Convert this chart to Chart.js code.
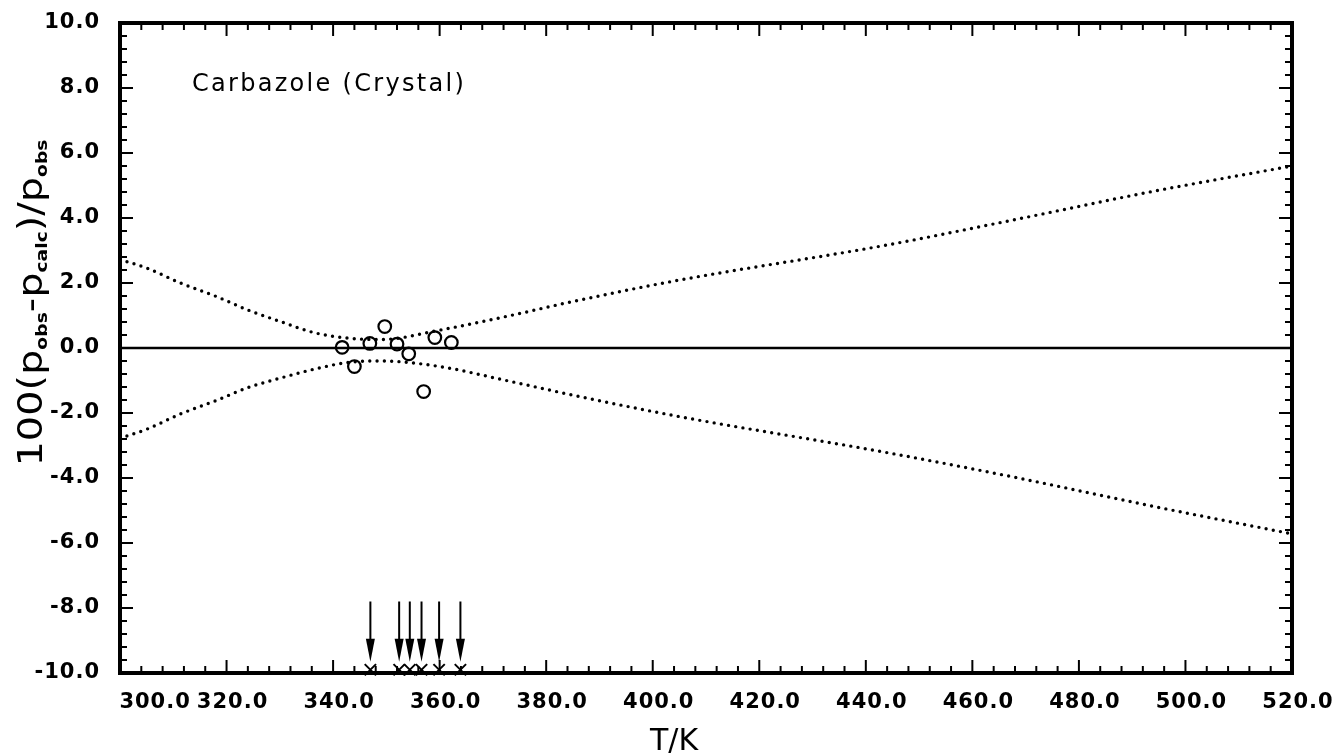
<!DOCTYPE html>
<html>
<head>
<meta charset="utf-8">
<script src="https://cdn.jsdelivr.net/npm/chart.js@4.4.1/dist/chart.umd.min.js"></script>
<style>
  html, body { margin: 0; padding: 0; background: #fff; }
  #contenedor { width: 1335px; height: 755px; }
</style>
</head>
<body>
<div id="contenedor"><canvas id="grafico" width="1335" height="755"></canvas></div>
<script>
// --- DATOS ---
// puntos medidos (T/K, desviación %)
const medidosT = [341.7, 344.0, 346.9, 349.7, 352.0, 354.2, 357.0, 359.1, 362.2];
const medidosDev = [0.02, -0.57, 0.14, 0.66, 0.12, -0.18, -1.34, 0.32, 0.17];

// banda de incertidumbre (curvas punteadas)
const bandaT = [300, 305, 311.5, 318, 324, 330, 336.5, 343, 349, 360, 372.5, 385, 404, 444, 468, 493, 520];
const bandaSup = [2.72, 2.46, 1.99, 1.59, 1.17, 0.82, 0.47, 0.30, 0.26, 0.55, 0.97, 1.43, 2.06, 3.17, 3.95, 4.79, 5.60];
const bandaInf = [-2.78, -2.50, -2.02, -1.62, -1.22, -0.93, -0.65, -0.44, -0.40, -0.57, -1.00, -1.45, -2.08, -3.22, -3.98, -4.84, -5.72];

// línea de cero
const ceroT = [300, 520];
const ceroDev = [0, 0];

// flechas y cruces sobre el eje inferior
const flechasT = [347.0, 352.4, 354.4, 356.6, 359.9, 363.9];
const flechaDesde = -7.8;
const flechaHasta = -9.65;
const cruzDev = -9.9;

// ejes
const ejeX = { min: 300, max: 520, paso: 20, menor: 4 };
const ejeY = { min: -10, max: 10, paso: 2, menor: 0.4 };

const rotulo = 'Carbazole (Crystal)';
const rotuloPos = [313.5, 7.9];
const tituloX = 'T/K';
const largoTituloY = 327;

const pares = (xs, ys) => xs.map((v, i) => ({ x: v, y: ys[i] }));

const fuenteEje = { family: 'DejaVu Sans', size: 21, weight: 'bold' };

// --- PLUGINS ---
// espaciado de letras para los números de los ejes
const espaciado = {
  id: 'espaciado',
  beforeDraw(chart) { chart.ctx.letterSpacing = '1px'; }
};

// marco completo con marcas hacia adentro en los cuatro lados
const marcoYMarcas = {
  id: 'marcoYMarcas',
  afterDatasetsDraw(chart) {
    const { ctx, chartArea: a, scales: { x, y } } = chart;
    ctx.save();
    ctx.strokeStyle = '#000';
    ctx.lineWidth = 2;
    const linea = (x1, y1, x2, y2) => { ctx.beginPath(); ctx.moveTo(x1, y1); ctx.lineTo(x2, y2); ctx.stroke(); };

    const nX = Math.round((ejeX.max - ejeX.min) / ejeX.menor);
    for (let i = 0; i <= nX; i++) {
      const px = x.getPixelForValue(ejeX.min + i * ejeX.menor);
      const len = i % 5 === 0 ? 13 : 7;
      linea(px, a.bottom, px, a.bottom - len);
      linea(px, a.top, px, a.top + len);
    }
    const nY = Math.round((ejeY.max - ejeY.min) / ejeY.menor);
    for (let i = 0; i <= nY; i++) {
      const py = y.getPixelForValue(ejeY.min + i * ejeY.menor);
      const len = i % 5 === 0 ? 13 : 7;
      linea(a.left, py, a.left + len, py);
      linea(a.right, py, a.right - len, py);
    }

    // flechas
    ctx.fillStyle = '#000';
    flechasT.forEach(t => {
      const px = x.getPixelForValue(t);
      const y1 = y.getPixelForValue(flechaDesde);
      const y2 = y.getPixelForValue(flechaHasta);
      linea(px, y1, px, y2 - 18);
      ctx.beginPath();
      ctx.moveTo(px, y2);
      ctx.lineTo(px - 4.5, y2 - 23);
      ctx.lineTo(px + 4.5, y2 - 23);
      ctx.closePath();
      ctx.fill();
    });

    ctx.lineWidth = 4;
    ctx.strokeRect(a.left, a.top, a.right - a.left, a.bottom - a.top);
    ctx.restore();
  }
};

// textos: rótulo, título X y título Y con subíndices
const textos = {
  id: 'textos',
  afterDraw(chart) {
    const { ctx, chartArea: a, scales: { x, y } } = chart;
    ctx.save();
    ctx.fillStyle = '#000';
    ctx.textBaseline = 'alphabetic';

    ctx.letterSpacing = '2.3px';
    ctx.font = '24px "DejaVu Sans"';
    ctx.textAlign = 'left';
    ctx.fillText(rotulo, x.getPixelForValue(rotuloPos[0]), y.getPixelForValue(rotuloPos[1]));

    ctx.letterSpacing = '0px';
    ctx.font = '30px "DejaVu Sans"';
    ctx.textAlign = 'center';
    ctx.fillText(tituloX, x.getPixelForValue(404), chart.height - 5);

    const principal = '34px "DejaVu Sans"';
    const sub = 'bold 16px "DejaVu Sans"';
    const partes = [
      ['100(p', principal, 0], ['obs', sub, 5],
      ['-p', principal, 0], ['calc', sub, 5],
      [')/p', principal, 0], ['obs', sub, 5]
    ];
    let total = 0;
    partes.forEach(p => { ctx.font = p[1]; total += ctx.measureText(p[0]).width; });
    ctx.translate(42, (a.top + a.bottom) / 2 - 45);
    ctx.rotate(-Math.PI / 2);
    ctx.scale(largoTituloY / total, 1);
    ctx.textAlign = 'left';
    let cx = -total / 2;
    partes.forEach(p => {
      ctx.font = p[1];
      ctx.fillText(p[0], cx, p[2]);
      cx += ctx.measureText(p[0]).width;
    });
    ctx.restore();
  }
};

// --- GRÁFICO ---
new Chart(document.getElementById('grafico'), {
  type: 'scatter',
  data: {
    datasets: [
      {
        label: 'cero',
        data: pares(ceroT, ceroDev),
        showLine: true,
        borderColor: '#000',
        borderWidth: 2.5,
        pointRadius: 0
      },
      {
        label: 'banda superior',
        data: pares(bandaT, bandaSup),
        showLine: true,
        borderColor: '#000',
        borderWidth: 3.4,
        borderDash: [0, 7.3],
        borderCapStyle: 'round',
        cubicInterpolationMode: 'monotone',
        pointRadius: 0
      },
      {
        label: 'banda inferior',
        data: pares(bandaT, bandaInf),
        showLine: true,
        borderColor: '#000',
        borderWidth: 3.4,
        borderDash: [0, 7.3],
        borderCapStyle: 'round',
        cubicInterpolationMode: 'monotone',
        pointRadius: 0
      },
      {
        label: 'medidos',
        data: pares(medidosT, medidosDev),
        pointStyle: 'circle',
        pointRadius: 6.3,
        borderWidth: 2.2,
        borderColor: '#000',
        backgroundColor: 'rgba(0,0,0,0)'
      },
      {
        label: 'cruces',
        data: flechasT.map(t => ({ x: t, y: cruzDev })),
        pointStyle: 'crossRot',
        pointRadius: 8,
        borderWidth: 2,
        borderColor: '#000',
        clip: false
      }
    ]
  },
  options: {
    responsive: false,
    devicePixelRatio: 1,
    animation: false,
    layout: { padding: { top: 23, right: 43, left: 0, bottom: 0 } },
    plugins: { legend: { display: false }, tooltip: { enabled: false } },
    scales: {
      x: {
        type: 'linear',
        min: ejeX.min,
        max: ejeX.max,
        grid: { display: false, drawTicks: false },
        border: { display: false },
        ticks: {
          stepSize: ejeX.paso,
          autoSkip: false,
          padding: 17,
          labelOffset: 6,
          maxRotation: 0,
          color: '#000',
          font: fuenteEje,
          callback: v => (v === ejeX.min ? ' '.repeat(7) : '') + v.toFixed(1)
        },
        afterFit: s => { s.height = 82; s.paddingLeft = 0; s.paddingRight = 0; }
      },
      y: {
        min: ejeY.min,
        max: ejeY.max,
        grid: { display: false, drawTicks: false },
        border: { display: false },
        ticks: {
          stepSize: ejeY.paso,
          autoSkip: false,
          padding: 20,
          color: '#000',
          font: fuenteEje,
          callback: v => v.toFixed(1)
        },
        afterFit: s => { s.width = 120; s.paddingTop = 0; s.paddingBottom = 0; }
      }
    }
  },
  plugins: [espaciado, marcoYMarcas, textos]
});
</script>
</body>
</html>
